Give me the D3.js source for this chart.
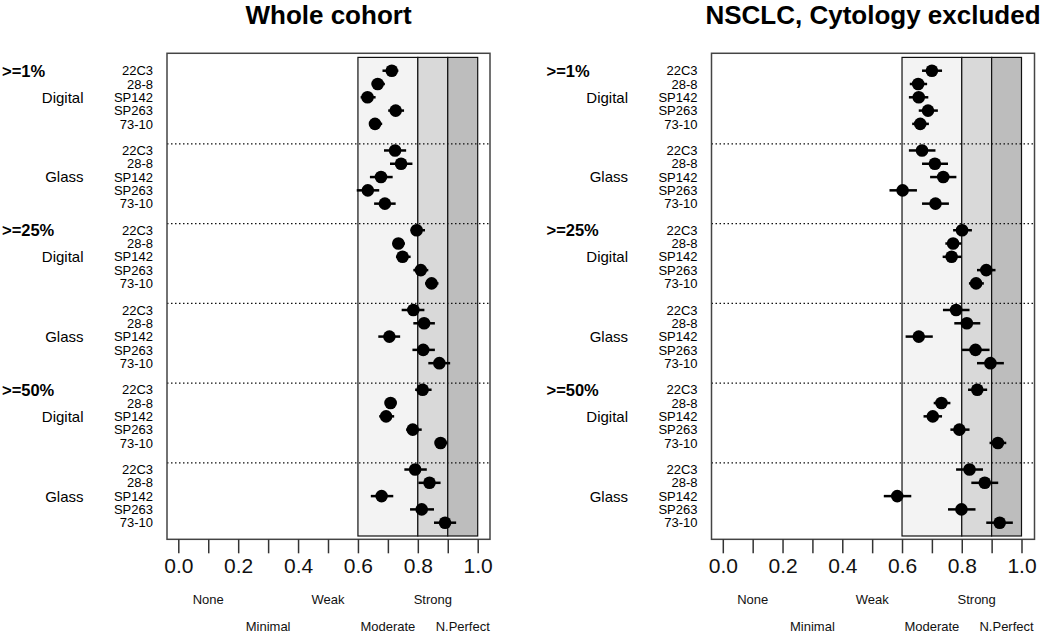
<!DOCTYPE html>
<html>
<head>
<meta charset="utf-8">
<script src="https://cdn.jsdelivr.net/npm/d3@7"></script>
<style>
  html, body { margin: 0; padding: 0; background: #fff; }
  svg { display: block; font-family: "Liberation Sans", Arial, sans-serif; }
</style>
</head>
<body>
<svg id="chart" width="1050" height="633"></svg>
<script>
// ---------- categories ----------
const panelTitles = ["Whole cohort", "NSCLC, Cytology excluded"];
const thresholds = [">=1%", ">=25%", ">=50%"];
const groups = ["Digital", "Glass"];
const antibodies = ["22C3", "28-8", "SP142", "SP263", "73-10"];

// ---------- axis ----------
const xTickValues = [0, 0.1, 0.2, 0.3, 0.4, 0.5, 0.6, 0.7, 0.8, 0.9, 1.0];
const xTickLabels = ["0.0", "", "0.2", "", "0.4", "", "0.6", "", "0.8", "", "1.0"];
const agreementLabels = ["None", "Minimal", "Weak", "Moderate", "Strong", "N.Perfect"];
const agreementAt = [0.1, 0.3, 0.5, 0.7, 0.85, 0.95];
const agreementLine = [0, 1, 0, 1, 0, 1];
const bandEdges = [0.6, 0.8, 0.9, 1.0];
const bandFills = ["#f3f3f3", "#d9d9d9", "#bdbdbd"];

// ---------- series (order: >=1% Digital, >=1% Glass, >=25% Digital, >=25% Glass, >=50% Digital, >=50% Glass; antibodies in order) ----------
const wholeEst = [
  0.713, 0.666, 0.632, 0.726, 0.657,
  0.724, 0.744, 0.677, 0.633, 0.690,
  0.796, 0.735, 0.749, 0.810, 0.846,
  0.785, 0.821, 0.705, 0.818, 0.872,
  0.816, 0.709, 0.694, 0.783, 0.876,
  0.791, 0.839, 0.679, 0.813, 0.891
];
const wholeLow = [
  0.682, 0.646, 0.609, 0.701, 0.638,
  0.687, 0.707, 0.640, 0.596, 0.654,
  0.776, 0.716, 0.727, 0.785, 0.824,
  0.746, 0.785, 0.668, 0.782, 0.835,
  0.791, 0.690, 0.671, 0.761, 0.857,
  0.755, 0.802, 0.643, 0.774, 0.854
];
const wholeHigh = [
  0.735, 0.690, 0.659, 0.754, 0.681,
  0.761, 0.782, 0.716, 0.671, 0.726,
  0.824, 0.757, 0.776, 0.835, 0.869,
  0.822, 0.857, 0.741, 0.857, 0.908,
  0.846, 0.729, 0.721, 0.813, 0.899,
  0.830, 0.876, 0.718, 0.854, 0.928
];
const nsclcEst = [
  0.700, 0.654, 0.656, 0.687, 0.661,
  0.667, 0.710, 0.738, 0.602, 0.712,
  0.801, 0.771, 0.766, 0.882, 0.848,
  0.781, 0.817, 0.656, 0.846, 0.896,
  0.852, 0.732, 0.703, 0.792, 0.921,
  0.826, 0.877, 0.584, 0.799, 0.927
];
const nsclcLow = [
  0.667, 0.626, 0.623, 0.656, 0.634,
  0.623, 0.667, 0.694, 0.558, 0.667,
  0.771, 0.745, 0.736, 0.851, 0.824,
  0.737, 0.775, 0.612, 0.801, 0.851,
  0.821, 0.706, 0.672, 0.762, 0.893,
  0.781, 0.832, 0.539, 0.754, 0.882
];
const nsclcHigh = [
  0.734, 0.684, 0.688, 0.720, 0.690,
  0.712, 0.754, 0.782, 0.650, 0.757,
  0.834, 0.799, 0.799, 0.913, 0.874,
  0.826, 0.862, 0.703, 0.893, 0.941,
  0.885, 0.762, 0.734, 0.826, 0.949,
  0.871, 0.922, 0.631, 0.846, 0.971
];

const seriesEst = [wholeEst, nsclcEst];
const seriesLow = [wholeLow, nsclcLow];
const seriesHigh = [wholeHigh, nsclcHigh];

// ---------- layout ----------
const svg = d3.select("#chart");
const panelOffsets = [0, 544.5];
const rowsPerBlock = antibodies.length + 1;

const y = d3.scaleLinear().domain([0, 34]).range([70.7, 522.7]);
const frameTopIdx = -1.31, frameBotIdx = 35.25;

function rowIndex(t, g, a) { return (t * groups.length + g) * rowsPerBlock + a; }

panelOffsets.forEach((off, p) => {
  const g = svg.append("g");
  const frameL = 167 + off, frameR = 490 + off;
  const x = d3.scaleLinear().domain([0, 1]).range([178.3 + off, 477.7 + off - (p === 1 ? 0.7 : 0)]);

  // title
  g.append("text")
    .attr("x", (frameL + frameR) / 2).attr("y", 24)
    .attr("text-anchor", "middle")
    .attr("font-size", 26).attr("font-weight", "bold")
    .text(panelTitles[p]);

  // bands
  for (let b = 0; b < bandFills.length; b++) {
    g.append("rect")
      .attr("x", x(bandEdges[b])).attr("width", x(bandEdges[b + 1]) - x(bandEdges[b]))
      .attr("y", y(-1)).attr("height", y(35) - y(-1))
      .attr("fill", bandFills[b]).attr("stroke", "#111").attr("stroke-width", 1.2);
  }

  // dotted separators
  for (let k = 1; k < thresholds.length * groups.length; k++) {
    const yy = y(k * rowsPerBlock - 0.5);
    g.append("line")
      .attr("x1", frameL).attr("x2", frameR).attr("y1", yy).attr("y2", yy)
      .attr("stroke", "#111").attr("stroke-width", 1.2).attr("stroke-dasharray", "1.5,2.5");
  }

  // frame
  g.append("rect")
    .attr("x", frameL).attr("y", y(frameTopIdx))
    .attr("width", frameR - frameL).attr("height", y(frameBotIdx) - y(frameTopIdx))
    .attr("fill", "none").attr("stroke", "#444").attr("stroke-width", 1.5);

  // axis
  const axis = d3.axisBottom(x).tickValues(xTickValues)
    .tickFormat((d, i) => xTickLabels[i]).tickSize(14).tickPadding(5);
  const ax = g.append("g").attr("transform", `translate(0,${y(frameBotIdx)})`).call(axis);
  ax.select(".domain").remove();
  ax.selectAll(".tick line").attr("stroke", "#333").attr("stroke-width", 1.5);
  ax.selectAll(".tick text").attr("font-size", 21).attr("fill", "#111")
    .attr("font-family", "'Liberation Sans', Arial, sans-serif");

  // agreement labels
  agreementLabels.forEach((lab, i) => {
    g.append("text")
      .attr("x", x(agreementAt[i])).attr("y", agreementLine[i] ? 631 : 604)
      .attr("text-anchor", "middle").attr("font-size", 13).attr("fill", "#111")
      .text(lab);
  });

  // row labels and data
  thresholds.forEach((th, t) => {
    g.append("text")
      .attr("x", 2 + off).attr("y", y(rowIndex(t, 0, 0)))
      .attr("dy", "0.36em").attr("font-size", 16.5).attr("font-weight", "bold")
      .text(th);
    groups.forEach((gr, gi) => {
      g.append("text")
        .attr("x", 83.5 + off).attr("y", y(rowIndex(t, gi, 2)))
        .attr("dy", "0.36em").attr("text-anchor", "end").attr("font-size", 15)
        .text(gr);
      antibodies.forEach((ab, a) => {
        const r = rowIndex(t, gi, a);
        const idx = (t * groups.length + gi) * antibodies.length + a;
        g.append("text")
          .attr("x", 153 + off).attr("y", y(r))
          .attr("dy", "0.36em").attr("text-anchor", "end").attr("font-size", 13)
          .text(ab);
        g.append("line")
          .attr("x1", x(seriesLow[p][idx])).attr("x2", x(seriesHigh[p][idx]))
          .attr("y1", y(r)).attr("y2", y(r))
          .attr("stroke", "#000").attr("stroke-width", 2.5);
        g.append("circle")
          .attr("cx", x(seriesEst[p][idx])).attr("cy", y(r)).attr("r", 6.3)
          .attr("fill", "#000");
      });
    });
  });
});
</script>
</body>
</html>
